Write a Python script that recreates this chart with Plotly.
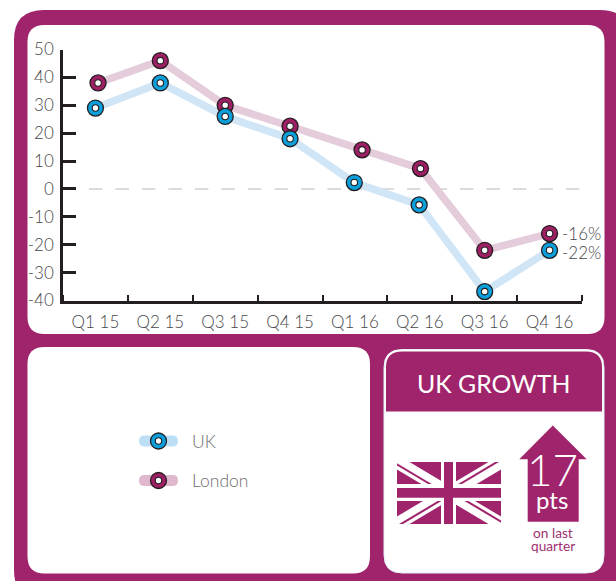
import plotly.graph_objects as go

# Survey readings by quarter
quarters = ["Q1 15", "Q2 15", "Q3 15", "Q4 15", "Q1 16", "Q2 16", "Q3 16", "Q4 16"]
uk_values = [29, 38, 26, 18, 2.3, -5.7, -36.8, -22]
london_values = [38, 46, 30, 22.5, 14, 7.3, -22, -16]
uk_slots = [0, 1, 2, 3, 3.99, 4.99, 6, 7]
london_slots = [0.04, 1, 2, 3, 4.11, 5.01, 6, 7]

y_ticks = [50, 40, 30, 20, 10, 0, -10, -20, -30, -40]
y_tick_labels = ["50", "40", "30", "20", "10", "0", "-10", "-20", "-30", "-40"]

WIDTH, HEIGHT = 616, 581
PURPLE = "#a0246b"
MARKER_PURPLE = "#9e1f63"
BLUE = "#0b9fdc"
INK = "#231f20"
GREY_TEXT = "#48484a"
FONT = "Lato"


def px(x):
    return x / WIDTH


def py(y):
    return 1 - y / HEIGHT


def rounded(x0, y0, x1, y1, r, bottom=True):
    """SVG path of a rounded rectangle, given in page pixels."""
    def p(x, y):
        return f"{px(x):.5f},{py(y):.5f}"
    parts = [f"M{p(x0 + r, y0)}", f"L{p(x1 - r, y0)}", f"Q{p(x1, y0)} {p(x1, y0 + r)}"]
    if bottom:
        parts += [f"L{p(x1, y1 - r)}", f"Q{p(x1, y1)} {p(x1 - r, y1)}",
                  f"L{p(x0 + r, y1)}", f"Q{p(x0, y1)} {p(x0, y1 - r)}"]
    else:
        parts += [f"L{p(x1, y1)}", f"L{p(x0, y1)}"]
    parts += [f"L{p(x0, y0 + r)}", f"Q{p(x0, y0)} {p(x0 + r, y0)}", "Z"]
    return "".join(parts)


def polygon(points, fill):
    d = "M" + "L".join(f"{px(x):.5f},{py(y):.5f}" for x, y in points) + "Z"
    return dict(type="path", xref="paper", yref="paper", path=d, fillcolor=fill,
                line=dict(width=0), layer="below")


def panel(path, fill, line=None):
    return dict(type="path", xref="paper", yref="paper", path=path, fillcolor=fill,
                line=line or dict(width=0), layer="below")


def box(x0, y0, x1, y1, fill):
    return polygon([(x0, y0), (x1, y0), (x1, y1), (x0, y1)], fill)


def disc(cx, cy, r, fill, line_color, line_width):
    return dict(type="circle", xref="paper", yref="paper",
                x0=px(cx - r), x1=px(cx + r), y0=py(cy + r), y1=py(cy - r),
                fillcolor=fill, line=dict(color=line_color, width=line_width), layer="below")


shapes = [
    panel(rounded(14, 10, 630, 600, 30), PURPLE),
    panel(rounded(27.5, 25, 604.5, 334, 17), "white"),
    panel(rounded(27.5, 347, 370, 573.5, 17), "white"),
    panel(rounded(384, 349.5, 604, 573, 18), "white", dict(color="#e3f2f9", width=1)),
    panel(rounded(386, 351.5, 602, 411.5, 16, bottom=False), PURPLE),
]

# Legend keys
for key_y, soft, solid in [(441, "#bddff5", BLUE), (480.5, "#e0b8ce", MARKER_PURPLE)]:
    shapes.append(panel(rounded(139, key_y - 5.5, 178, key_y + 5.5, 5.5), soft))
    shapes.append(disc(158.5, key_y, 8, solid, INK, 1.3))
    shapes.append(disc(158.5, key_y, 3.2, "white", INK, 1.1))

# Union flag, built up from its bands
FX, FY, FW, FH = 397, 462, 104, 62
def flag_pts(pts):
    return [(FX + x, FY + y) for x, y in pts]

A, B = 12.5, 7.5
O1, O2 = 1.2, 3.6
shapes.append(box(FX, FY, FX + FW, FY + FH, PURPLE))
shapes.append(polygon(flag_pts([(0, 0), (A, 0), (FW, FH - B), (FW, FH), (FW - A, FH), (0, B)]), "white"))
shapes.append(polygon(flag_pts([(FW, 0), (FW, B), (A, FH), (0, FH), (0, FH - B), (FW - A, 0)]), "white"))
shapes.append(polygon(flag_pts([(0, O1), (0, O2), (FW / 2, FH / 2 + O2), (FW / 2, FH / 2 + O1)]), PURPLE))
shapes.append(polygon(flag_pts([(FW, FH - O1), (FW, FH - O2), (FW / 2, FH / 2 - O2), (FW / 2, FH / 2 - O1)]), PURPLE))
shapes.append(polygon(flag_pts([(FW / 2, FH / 2 - O1), (FW / 2, FH / 2 - O2),
                                (FW * (1 - O2 / FH), 0), (FW * (1 - O1 / FH), 0)]), PURPLE))
shapes.append(polygon(flag_pts([(FW / 2, FH / 2 + O1), (FW / 2, FH / 2 + O2),
                                (FW * O2 / FH, FH), (FW * O1 / FH, FH)]), PURPLE))
shapes.append(box(441, FY, 456, FY + FH, "white"))
shapes.append(box(FX, 484, FX + FW, 501, "white"))
shapes.append(box(444, FY, 453, FY + FH, PURPLE))
shapes.append(box(FX, 488, FX + FW, 497.7, PURPLE))

# Up arrow behind the headline figure
shapes.append(polygon([(552.8, 425.5), (586.7, 459.3), (578.7, 459.3), (578.7, 521.7),
                       (527.7, 521.7), (527.7, 459.3), (519.3, 459.3)], PURPLE))

# Zero reference line
shapes.append(dict(type="line", xref="x", yref="y", x0=-0.1, x1=7.46, y0=0, y1=0,
                   line=dict(color="#cfcfcf", width=1.4, dash="13.5px,13px"), layer="below"))


def page_text(x, y, text, size, color, anchor="center", weight=400):
    return dict(xref="paper", yref="paper", x=px(x), y=py(y), text=text, showarrow=False,
                xanchor=anchor, yanchor="middle",
                font=dict(family=FONT, size=size, color=color, weight=weight))


annotations = [
    page_text(190, 441, "UK", 17.5, "#6d6e71", "left", 300),
    page_text(190, 480.5, "London", 17.5, "#6d6e71", "left", 300),
    page_text(493.7, 383, "UK GROWTH", 24.8, "white", weight=400),
    page_text(552, 469, "17", 44, "white", weight=300),
    page_text(552, 499, "pts", 24, "white"),
    page_text(552.5, 532, "on last", 13.7, "#a0306f", weight=400),
    page_text(552.5, 545.5, "quarter", 13.7, "#a0306f", weight=400),
]
for value, y_shift in [(london_values[-1], 0), (uk_values[-1], -2)]:
    annotations.append(dict(x=7, y=value, xref="x", yref="y", text=f"{value}%", showarrow=False,
                            xanchor="left", yanchor="middle", xshift=10, yshift=y_shift,
                            font=dict(family=FONT, size=17, color=GREY_TEXT, weight=300)))

fig = go.Figure()

# Soft lines first so that every marker sits above them
fig.add_trace(go.Scatter(x=london_slots, y=london_values, mode="lines", name="London line",
                         line=dict(color="#e5ccdb", width=7.5), hoverinfo="skip", showlegend=False))
fig.add_trace(go.Scatter(x=uk_slots, y=uk_values, mode="lines", name="UK line",
                         line=dict(color="#d0e5f6", width=7.5), hoverinfo="skip", showlegend=False))

for name, xs, ys, solid in [("London", london_slots, london_values, MARKER_PURPLE),
                            ("UK", uk_slots, uk_values, BLUE)]:
    fig.add_trace(go.Scatter(x=xs, y=ys, mode="markers", name=name, showlegend=False,
                             marker=dict(size=16, color=solid, line=dict(color=INK, width=1.3))))
    fig.add_trace(go.Scatter(x=xs, y=ys, mode="markers", showlegend=False, hoverinfo="skip",
                             marker=dict(size=6.5, color="white", line=dict(color=INK, width=1.1))))

fig.update_layout(
    width=WIDTH, height=HEIGHT,
    margin=dict(l=0, r=0, t=0, b=0, autoexpand=False),
    paper_bgcolor="white",
    plot_bgcolor="rgba(0,0,0,0)",
    showlegend=False,
    shapes=shapes,
    annotations=annotations,
    xaxis=dict(
        automargin=False,
        domain=[px(63), px(582)],
        range=[-0.5, 7.5],
        tickmode="array",
        tickvals=list(range(len(quarters))),
        ticktext=quarters,
        ticks="",
        showgrid=False,
        zeroline=False,
        showline=True,
        linecolor=INK,
        linewidth=2.6,
        tickfont=dict(family=FONT, size=17, color=GREY_TEXT, weight=300),
        ticklabelstandoff=4,
        minor=dict(tickmode="linear", tick0=-0.5, dtick=1, ticks="inside", ticklen=6,
                   tickwidth=2.2, tickcolor=INK, showgrid=False),
    ),
    yaxis=dict(
        automargin=False,
        domain=[py(300.5), py(49.5)],
        range=[-40, 50],
        tickmode="array",
        tickvals=y_ticks,
        ticktext=y_tick_labels,
        ticks="inside",
        ticklen=13,
        tickwidth=2.6,
        tickcolor=INK,
        showgrid=False,
        zeroline=False,
        showline=True,
        linecolor=INK,
        linewidth=2.6,
        tickfont=dict(family=FONT, size=17, color=GREY_TEXT, weight=300),
        ticklabelstandoff=3,
    ),
)

fig.write_html("out.html", config=dict(displayModeBar=False))
